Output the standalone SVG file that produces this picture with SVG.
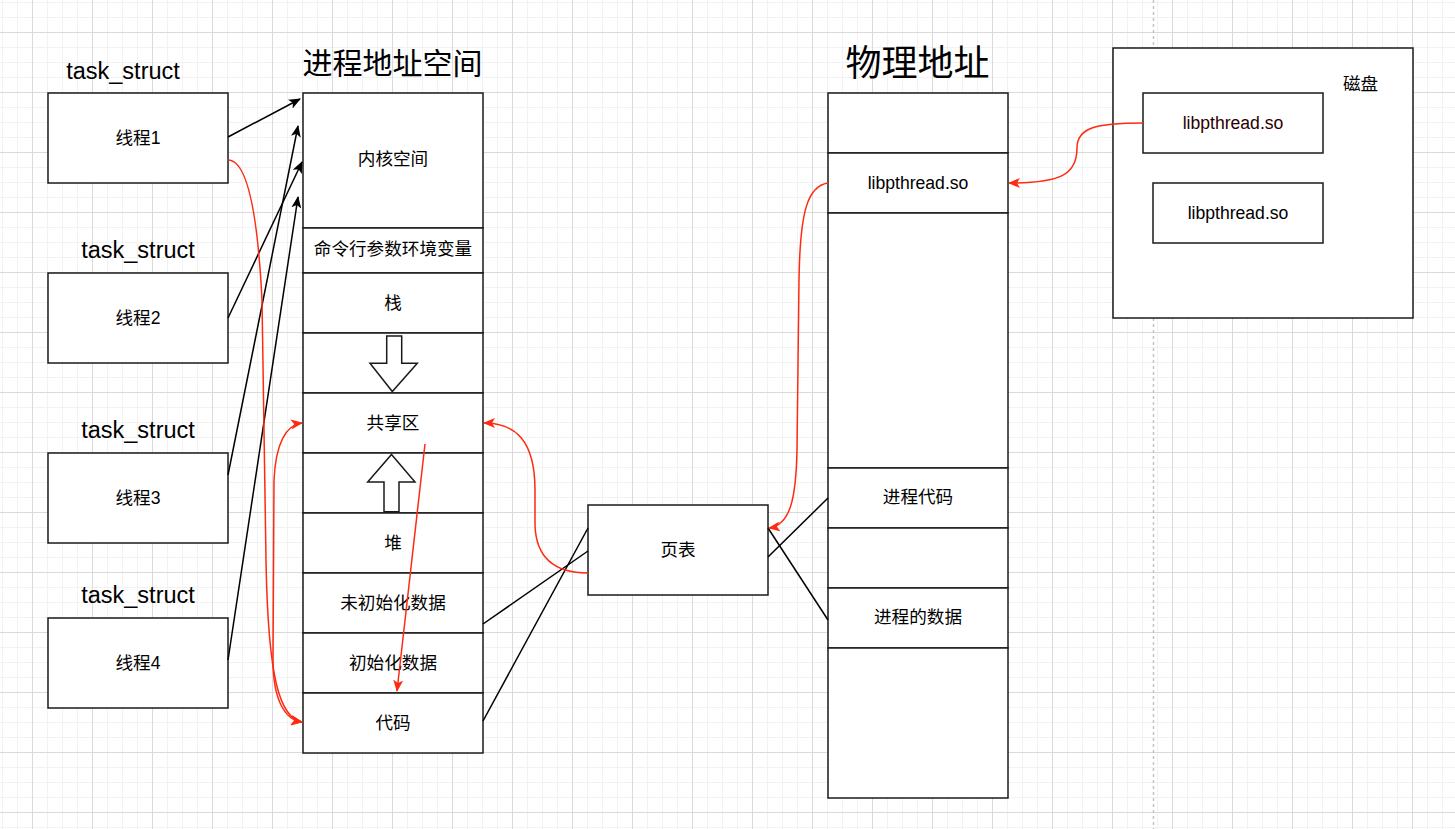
<svg xmlns="http://www.w3.org/2000/svg" width="1455" height="829" viewBox="0 0 1455 829">
<style>
.box{fill:#fff;stroke:#1a1a1a;stroke-width:1.5}
.t{font-family:"Liberation Sans","Noto Sans CJK SC",sans-serif;font-size:17.6px;fill:#000;text-anchor:middle}
.ts{font-family:"Liberation Sans","Noto Sans CJK SC",sans-serif;font-size:23.5px;fill:#000;text-anchor:middle}
.ti{font-family:"Noto Sans CJK SC","Liberation Sans",sans-serif;fill:#000;text-anchor:middle}
.blk{fill:none;stroke:#000;stroke-width:1.5}
.red{fill:none;stroke:#ff2a12;stroke-width:1.5}
.barrow{fill:#fff;stroke:#1a1a1a;stroke-width:1.5}
</style>
<defs>
<pattern id="grid" x="32" y="32" width="60" height="60" patternUnits="userSpaceOnUse">
<path d="M15.5,0V60M30.5,0V60M45.5,0V60M0,15.5H60M0,30.5H60M0,45.5H60" stroke="#f2f2f2" stroke-width="1" fill="none"/>
<path d="M0.5,0V60M0,0.5H60" stroke="#dadada" stroke-width="1" fill="none"/>
</pattern>
<marker id="ab" viewBox="0 0 12 10" refX="11" refY="5" markerWidth="12" markerHeight="10" markerUnits="userSpaceOnUse" orient="auto">
<path d="M0,0 L12,5 L0,10 L3,5 Z" fill="#000"/>
</marker>
<marker id="ar" viewBox="0 0 12 10" refX="11" refY="5" markerWidth="12" markerHeight="10" markerUnits="userSpaceOnUse" orient="auto-start-reverse">
<path d="M0,0 L12,5 L0,10 L3,5 Z" fill="#ff2a12"/>
</marker>
</defs>
<rect x="0" y="0" width="1455" height="829" fill="#fff"/>
<rect x="0" y="0" width="1455" height="829" fill="url(#grid)"/>
<line x1="1153.5" y1="0" x2="1153.5" y2="829" stroke="#c4c4c4" stroke-width="1.5" stroke-dasharray="3,3"/>

<text class="ts" x="123" y="78.5">task_struct</text>
<text class="ts" x="138" y="258">task_struct</text>
<text class="ts" x="138" y="438">task_struct</text>
<text class="ts" x="138" y="603">task_struct</text>
<text class="ti" x="392.5" y="74" font-size="30">进程地址空间</text>
<text class="ti" x="917.5" y="76" font-size="36">物理地址</text>

<g id="thread1"><rect class="box" x="48" y="93" width="180" height="90"/><text class="t" x="138" y="143.5">线程1</text></g>
<g id="thread2"><rect class="box" x="48" y="273" width="180" height="90"/><text class="t" x="138" y="323.5">线程2</text></g>
<g id="thread3"><rect class="box" x="48" y="453" width="180" height="90"/><text class="t" x="138" y="503.5">线程3</text></g>
<g id="thread4"><rect class="box" x="48" y="618" width="180" height="90"/><text class="t" x="138" y="668.5">线程4</text></g>

<g id="addr-space">
<rect class="box" x="303" y="93" width="180" height="135"/><text class="t" x="393" y="164.5">内核空间</text>
<rect class="box" x="303" y="228" width="180" height="45"/><text class="t" x="393" y="254.5">命令行参数环境变量</text>
<rect class="box" x="303" y="273" width="180" height="60"/><text class="t" x="393" y="308.5">栈</text>
<rect class="box" x="303" y="333" width="180" height="60"/>
<rect class="box" x="303" y="393" width="180" height="60"/><text class="t" x="393" y="428.5">共享区</text>
<rect class="box" x="303" y="453" width="180" height="60"/>
<rect class="box" x="303" y="513" width="180" height="60"/><text class="t" x="393" y="548.5">堆</text>
<rect class="box" x="303" y="573" width="180" height="60"/><text class="t" x="393" y="608.5">未初始化数据</text>
<rect class="box" x="303" y="633" width="180" height="60"/><text class="t" x="393" y="668.5">初始化数据</text>
<rect class="box" x="303" y="693" width="180" height="60"/><text class="t" x="393" y="728.5">代码</text>
</g>
<g id="arrow-down"><polygon class="barrow" points="386.7,336 401.7,336 401.7,363.3 417.3,363.3 392.3,391.5 370,363.3 386.7,363.3"/></g>
<g id="arrow-up"><polygon class="barrow" points="391.5,454.5 415,482 399,482 399,511.7 384,511.7 384,482 367.7,482"/></g>

<g id="page-table"><rect class="box" x="588" y="505" width="180" height="90"/><text class="t" x="678" y="555.5">页表</text></g>

<g id="phys-mem">
<rect class="box" x="828" y="93" width="180" height="60"/>
<rect class="box" x="828" y="153" width="180" height="60"/><text class="t" x="918" y="188.5">libpthread.so</text>
<rect class="box" x="828" y="213" width="180" height="255"/>
<rect class="box" x="828" y="468" width="180" height="60"/><text class="t" x="918" y="502.5">进程代码</text>
<rect class="box" x="828" y="528" width="180" height="60"/>
<rect class="box" x="828" y="588" width="180" height="60"/><text class="t" x="918" y="622.5">进程的数据</text>
<rect class="box" x="828" y="648" width="180" height="150"/>
</g>

<g id="disk">
<rect class="box" x="1113" y="48" width="300" height="270"/>
<text class="t" x="1360.5" y="89.5">磁盘</text>
</g>
<g id="disk-lib1"><rect class="box" x="1143" y="93" width="180" height="60"/><text class="t" x="1233" y="128.5" fill="#2a0000" style="fill:#2a0000">libpthread.so</text></g>
<g id="disk-lib2"><rect class="box" x="1153" y="183" width="170" height="60"/><text class="t" x="1238" y="218.5">libpthread.so</text></g>

<g id="connectors">
<line class="blk" x1="228" y1="137" x2="300" y2="99" marker-end="url(#ab)"/>
<line class="blk" x1="228" y1="318" x2="302" y2="162" marker-end="url(#ab)"/>
<line class="blk" x1="228" y1="475" x2="298" y2="126" marker-end="url(#ab)"/>
<line class="blk" x1="228" y1="660" x2="298" y2="197" marker-end="url(#ab)"/>
<line class="blk" x1="483" y1="624" x2="588" y2="551"/>
<line class="blk" x1="483" y1="721" x2="588" y2="528"/>
<line class="blk" x1="768" y1="557" x2="828" y2="498"/>
<line class="blk" x1="768" y1="528" x2="828" y2="620"/>
<path class="red" d="M228,160 C248,160 258,220 262,300 L266,560 C268,680 280,718 302,722" marker-end="url(#ar)"/>
<path class="red" d="M302,423 C287,425 276,440 274,480 L273,660 C273,700 285,720 302,722" marker-start="url(#ar)" marker-end="url(#ar)"/>
<line class="red" x1="425" y1="444" x2="397" y2="691" marker-end="url(#ar)"/>
<path class="red" d="M588,573 C555,573 536,558 535,525 L535,490 C535,440 515,423 484,423" marker-end="url(#ar)"/>
<path class="red" d="M828,183 C808,186 800,210 799,280 L797,450 C796,500 790,525 769,528" marker-end="url(#ar)"/>
<path class="red" d="M1143,123 C1095,123 1077,128 1077,148 C1077,175 1060,183 1009,183" marker-end="url(#ar)"/>
</g>
</svg>
